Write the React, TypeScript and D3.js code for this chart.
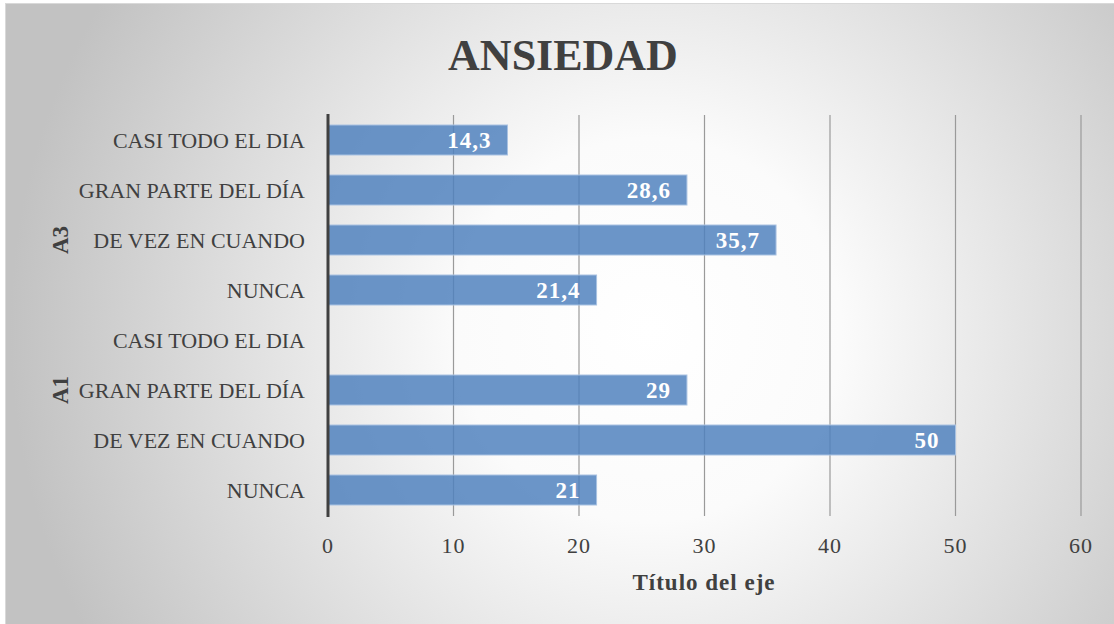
import React from "react";
import * as d3 from "d3";

const groups = ["A3", "A1"];
const categories = ["CASI TODO EL DIA", "GRAN PARTE DEL DÍA", "DE VEZ EN CUANDO", "NUNCA"];
// values per group, in the same order as categories (null = no bar)
const valuesA3 = [14.3, 28.6, 35.7, 21.4];
const valuesA1: (number | null)[] = [null, 28.6, 50, 21.4];
const labelsA3 = ["14,3", "28,6", "35,7", "21,4"];
const labelsA1 = ["", "29", "50", "21"];
const xTicks = [0, 10, 20, 30, 40, 50, 60];

const W = 1114;
const H = 624;
const serif = "'Liberation Serif', 'Times New Roman', serif";
const textColor = "#404040";

const rows = [
  ...categories.map((c, i) => ({ key: "A3-" + i, group: "A3", cat: c, v: valuesA3[i], label: labelsA3[i] })),
  ...categories.map((c, i) => ({ key: "A1-" + i, group: "A1", cat: c, v: valuesA1[i], label: labelsA1[i] })),
];

const App = () => {
  const x = d3.scaleLinear().domain([0, 60]).range([328, 1081]);
  const y = d3
    .scaleBand<string>()
    .domain(rows.map((r) => r.key))
    .range([115, 515])
    .paddingInner(0.4)
    .paddingOuter(0.2);

  // group label sits on one of its rows, like the source
  const groupLabelRow: Record<string, string> = { A3: "A3-2", A1: "A1-1" };

  return (
    <div>
      <style>{`body{margin:0}`}</style>
      <svg width={W} height={H} style={{ display: "block" }}>
        <defs>
          <radialGradient id="bg" gradientUnits="userSpaceOnUse" cx={650} cy={330} r={640}>
            <stop offset="0" stopColor="#ffffff" />
            <stop offset="0.3" stopColor="#fbfbfb" />
            <stop offset="1" stopColor="#c2c2c2" />
          </radialGradient>
        </defs>
        <rect x={0} y={0} width={W} height={H} fill="#ffffff" />
        <rect x={5.5} y={3.5} width={W} height={H} fill="url(#bg)" stroke="#d9d9d9" strokeWidth={1} />

        {/* title */}
        <text x={563} y={70} textAnchor="middle" fontFamily={serif} fontWeight="bold" fontSize={44} fill={textColor}>
          ANSIEDAD
        </text>

        {/* vertical grid */}
        {xTicks.slice(1).map((t) => (
          <line key={t} x1={x(t)} x2={x(t)} y1={115} y2={516} stroke="#9a9a9a" strokeWidth={1.2} />
        ))}

        {/* bars */}
        {rows.map((r) =>
          r.v == null ? null : (
            <g key={r.key}>
              <rect
                x={x(0)}
                y={y(r.key)!}
                width={x(r.v) - x(0)}
                height={y.bandwidth()}
                fill="#4f81bd"
                fillOpacity={0.84}
                stroke="#a9c2e2"
                strokeWidth={1}
              />
              <text
                x={x(r.v) - 16}
                y={y(r.key)! + y.bandwidth() / 2}
                dy="0.35em"
                textAnchor="end"
                fontFamily={serif}
                fontWeight="bold"
                fontSize={23}
                letterSpacing={1}
                fill="#ffffff"
              >
                {r.label}
              </text>
            </g>
          )
        )}

        {/* category axis line */}
        <line x1={x(0)} x2={x(0)} y1={114} y2={517} stroke={textColor} strokeWidth={3} />

        {/* category labels */}
        {rows.map((r) => (
          <text
            key={r.key}
            x={305}
            y={y(r.key)! + y.bandwidth() / 2}
            dy="0.35em"
            textAnchor="end"
            fontFamily={serif}
            fontSize={22}
            fill={textColor}
          >
            {r.cat}
          </text>
        ))}

        {/* group labels */}
        {groups.map((g) => {
          const cy = y(groupLabelRow[g])! + y.bandwidth() / 2;
          return (
            <text
              key={g}
              transform={`translate(60,${cy}) rotate(-90)`}
              dy="0.35em"
              textAnchor="middle"
              fontFamily={serif}
              fontWeight="bold"
              fontSize={23}
              fill={textColor}
            >
              {g}
            </text>
          );
        })}

        {/* value axis ticks */}
        {xTicks.map((t) => (
          <text key={t} x={x(t)} y={553} textAnchor="middle" fontFamily={serif} fontSize={22} letterSpacing={1} fill={textColor}>
            {t}
          </text>
        ))}

        <text x={704} y={590} textAnchor="middle" fontFamily={serif} fontWeight="bold" fontSize={23} letterSpacing={1} fill={textColor}>
          Título del eje
        </text>
      </svg>
    </div>
  );
};

export default App;
